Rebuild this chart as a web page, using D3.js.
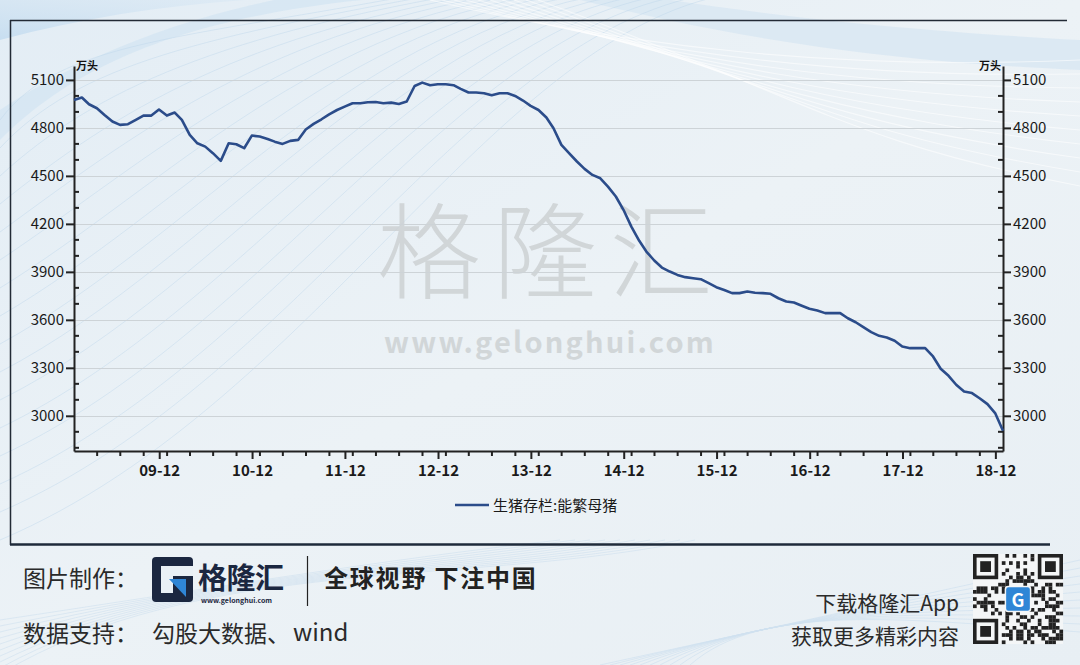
<!DOCTYPE html>
<html><head><meta charset="utf-8">
<script src="https://cdn.jsdelivr.net/npm/d3@7/dist/d3.min.js"></script>
<style>
html,body{margin:0;padding:0;background:#e9f0f5;}
svg{display:block;}
text{font-family:"Noto Sans CJK SC","Noto Sans",sans-serif;}
</style></head>
<body>
<svg id="c" width="1080" height="665"></svg>
<script>
// ---------- data ----------
const seriesName = "生猪存栏:能繁母猪";
const unitLabel = "万头";
const startYear = 2008, startMonth = 11; // first observation: 2008-12 (month end)
const sowStock = [
  4975, 4990, 4948, 4923, 4881, 4840, 4819, 4823, 4850, 4877,
  4877, 4915, 4877, 4896, 4850, 4756, 4704, 4683, 4642, 4594,
  4704, 4698, 4673, 4752, 4746, 4731, 4714, 4700, 4719, 4725,
  4790, 4825, 4854, 4885, 4912, 4933, 4954, 4954, 4960, 4962,
  4954, 4958, 4950, 4965, 5062, 5083, 5067, 5073, 5073, 5067,
  5044, 5021, 5021, 5017, 5004, 5017, 5017, 5000, 4971, 4938,
  4912, 4865, 4798, 4694, 4642, 4590, 4544, 4506, 4485, 4433,
  4371, 4288, 4183, 4094, 4027, 3971, 3927, 3902, 3881, 3867,
  3860, 3854, 3829, 3804, 3787, 3767, 3767, 3777, 3769, 3767,
  3763, 3735, 3715, 3708, 3688, 3669, 3658, 3642, 3642, 3642,
  3610, 3585, 3554, 3523, 3500, 3490, 3469, 3433, 3423, 3423,
  3423, 3371, 3294, 3250, 3194, 3152, 3142, 3110, 3073, 3017, 2906
];
const yTickValues = [3000, 3300, 3600, 3900, 4200, 4500, 4800, 5100];
const xTickLabels = ["09-12","10-12","11-12","12-12","13-12","14-12","15-12","16-12","17-12","18-12"];
const footerLeft1 = "图片制作：";
const footerSlogan = "全球视野 下注中国";
const footerLeft2a = "数据支持：";
const footerLeft2b = "勾股大数据、";
const footerWind = "wind";
const footerRight1 = "下载格隆汇App";
const footerRight2 = "获取更多精彩内容";

// ---------- build ----------
const data = sowStock.map((v,i)=>({date:new Date(startYear, startMonth+i+1, 0), value:v}));
const svg = d3.select("#c");

// background
const defs = svg.append("defs");
const bg = defs.append("linearGradient").attr("id","bg").attr("x1","0").attr("y1","0").attr("x2","1").attr("y2","1");
bg.append("stop").attr("offset","0").attr("stop-color","#e3edf5");
bg.append("stop").attr("offset","0.5").attr("stop-color","#ecf2f6");
bg.append("stop").attr("offset","1").attr("stop-color","#e8eff4");
svg.append("rect").attr("width",1080).attr("height",665).attr("fill","url(#bg)");

// decorative streaks (background ornament)
const deco = svg.append("g").attr("fill","none");
const band = defs.append("linearGradient").attr("id","band").attr("x1","0").attr("y1","1").attr("x2","1").attr("y2","0");
band.append("stop").attr("offset","0").attr("stop-color","#c4dcf0").attr("stop-opacity","0.9");
band.append("stop").attr("offset","1").attr("stop-color","#d9e8f4").attr("stop-opacity","0.2");
deco.append("path").attr("d","M0,40 C150,0 300,-10 480,0 L0,0 Z").attr("fill","url(#band)");
deco.append("path").attr("d","M0,140 C80,60 200,10 420,-5 L300,-5 C160,20 60,70 0,110 Z").attr("fill","#cfe2f2").attr("opacity",0.6);
deco.append("path").attr("d","M560,-5 C700,30 850,60 1080,70 L1080,40 C900,30 760,15 640,-5 Z").attr("fill","#d6e6f2").attr("opacity",0.7);
for(let k=0;k<16;k++){
  const y0 = 120 + k*28, x1 = 180 + k*22, c = 60 + k*18;
  deco.append("path")
    .attr("d",`M0,${y0} C${c},${y0-80-k*4} ${x1},${40-k*3} ${x1+260},${-10}`)
    .attr("stroke","#bcd5ea").attr("stroke-width",0.8).attr("opacity",0.55);
}
for(let k=0;k<10;k++){
  deco.append("path")
    .attr("d",`M${430+k*12},0 C${640+k*20},${50+k*6} ${850},${70+k*8} ${1080},${60+k*14}`)
    .attr("stroke","#ffffff").attr("stroke-width",1.2).attr("opacity",0.55);
}
for(let k=0;k<10;k++){
  deco.append("path")
    .attr("d",`M${0},${620+k*6} C${200},${590-k*4} ${380+k*10},${560+k*3} ${560+k*15},${540}`)
    .attr("stroke","#d3e3f0").attr("stroke-width",1).attr("opacity",0.7);
  deco.append("path")
    .attr("d",`M${600+k*10},665 C${760},${630-k*3} ${900},${600+k*2} ${1080},${560+k*8}`)
    .attr("stroke","#d0e1ef").attr("stroke-width",1).attr("opacity",0.7);
}

// chart frame
const frame = svg.append("g").attr("stroke","#222a35").attr("fill","none");
frame.append("line").attr("x1",10).attr("x2",1067).attr("y1",20.5).attr("y2",20.5).attr("stroke-width",1.3);
frame.append("line").attr("x1",10.5).attr("x2",10.5).attr("y1",20).attr("y2",545).attr("stroke-width",1.5);
frame.append("line").attr("x1",10).attr("x2",1050).attr("y1",544.5).attr("y2",544.5).attr("stroke-width",2.5).attr("stroke","#1e2a3a");

// scales
const x = d3.scaleTime().domain([data[0].date, data[data.length-1].date]).range([74, 1003]);
const y = d3.scaleLinear().domain([2780, 5187]).range([451, 66]);

// watermark
svg.append("text").attr("x",551).attr("y",291).attr("text-anchor","middle")
  .attr("font-size",104).attr("fill","#c9cdcf").attr("opacity",0.75).attr("letter-spacing",12)
  .attr("font-weight",300).text("格隆汇");
svg.append("text").attr("x",550).attr("y",353).attr("text-anchor","middle")
  .attr("font-size",29).attr("font-weight",700).attr("fill","#c9cdcf").attr("opacity",0.75)
  .attr("letter-spacing",2.2).attr("font-family","'Open Sans',sans-serif").text("www.gelonghui.com");

// grid
svg.append("g").selectAll("line").data(yTickValues).join("line")
  .attr("x1",74).attr("x2",1003).attr("y1",d=>Math.round(y(d))+0.5).attr("y2",d=>Math.round(y(d))+0.5)
  .attr("stroke","#cdd3d7").attr("stroke-width",1);

// axes
const minorY = d3.range(2800, 5101, 100).filter(v=>!yTickValues.includes(v));
const axisColor = "#222";
function styleAxis(g){ g.selectAll("path,line").attr("stroke",axisColor).attr("stroke-width",2); g.selectAll("text").attr("fill","#1a1a1a"); }

const yl = svg.append("g").attr("transform","translate(74,0)")
  .call(d3.axisLeft(y).tickValues(yTickValues).tickSize(8).tickSizeOuter(0).tickPadding(2).tickFormat(d3.format("d")));
yl.selectAll("text").attr("font-size",15).attr("font-family","'Open Sans',sans-serif");
styleAxis(yl);
yl.append("g").selectAll("line").data(minorY).join("line")
  .attr("x1",0).attr("x2",5).attr("y1",d=>y(d)).attr("y2",d=>y(d)).attr("stroke",axisColor).attr("stroke-width",2);

const yr = svg.append("g").attr("transform","translate(1003,0)")
  .call(d3.axisRight(y).tickValues(yTickValues).tickSize(8).tickSizeOuter(0).tickPadding(2).tickFormat(d3.format("d")));
yr.selectAll("text").attr("font-size",15).attr("font-family","'Open Sans',sans-serif");
styleAxis(yr);
yr.append("g").selectAll("line").data(minorY).join("line")
  .attr("x1",0).attr("x2",-5).attr("y1",d=>y(d)).attr("y2",d=>y(d)).attr("stroke",axisColor).attr("stroke-width",2);

// x axis
const majorDates = xTickLabels.map(s=>new Date(2000+ +s.slice(0,2), 11, 1));
const minorDates = d3.timeMonth.every(3).range(new Date(2009,2,1), data[data.length-1].date)
  .filter(d=>d.getMonth()!==11);
const xa = svg.append("g").attr("transform","translate(0,451)")
  .call(d3.axisBottom(x).tickValues(majorDates).tickSize(8).tickSizeOuter(0).tickPadding(6)
    .tickFormat((d,i)=>xTickLabels[i]));
xa.selectAll("text").attr("font-size",15).attr("font-weight",600).attr("font-family","'Open Sans',sans-serif");
styleAxis(xa);
xa.append("g").selectAll("line").data(minorDates).join("line")
  .attr("x1",d=>x(d)).attr("x2",d=>x(d)).attr("y1",0).attr("y2",5).attr("stroke",axisColor).attr("stroke-width",2);

// unit labels
svg.append("text").attr("x",76).attr("y",70).attr("font-size",11).attr("font-weight",700).attr("fill","#111").text(unitLabel);
svg.append("text").attr("x",1001).attr("y",70).attr("text-anchor","end").attr("font-size",11).attr("font-weight",700).attr("fill","#111").text(unitLabel);

// series line
const line = d3.line().x(d=>x(d.date)).y(d=>y(d.value)).curve(d3.curveLinear);
svg.append("path").datum(data).attr("d",line).attr("fill","none")
  .attr("stroke","#2b4c8a").attr("stroke-width",2.6).attr("stroke-linejoin","round");

// legend
const lg = svg.append("g").attr("transform","translate(455,505)");
lg.append("line").attr("x1",0).attr("x2",34).attr("y1",0).attr("y2",0).attr("stroke","#2b4c8a").attr("stroke-width",2.6);
lg.append("text").attr("x",38).attr("y",5.5).attr("font-size",15).attr("fill","#1a1a1a").text(seriesName);

// ---------- footer ----------
const ft = svg.append("g");
ft.append("text").attr("x",23).attr("y",587).attr("font-size",23).attr("fill","#2a2a2a").text(footerLeft1);
// logo icon
const lgx = 152, lgy = 557;
ft.append("rect").attr("x",lgx).attr("y",lgy).attr("width",41).attr("height",45).attr("rx",4).attr("fill","#1b2740");
ft.append("rect").attr("x",lgx+9).attr("y",lgy+9).attr("width",32).attr("height",10).attr("fill","#e9f0f5");
ft.append("rect").attr("x",lgx+9).attr("y",lgy+19).attr("width",12).attr("height",17).attr("fill","#e9f0f5");
ft.append("path").attr("d",`M${lgx+17},${lgy+22} L${lgx+34},${lgy+22} L${lgx+34},${lgy+40} Z`).attr("fill","#2f86d6");
ft.append("text").attr("x",198).attr("y",589).attr("font-size",29).attr("font-weight",700).attr("fill","#1b2740").attr("letter-spacing",-0.5).text("格隆汇");
ft.append("text").attr("x",201).attr("y",603).attr("font-size",7).attr("font-weight",700).attr("fill","#1b2740").attr("font-family","'Open Sans',sans-serif").text("www.gelonghui.com");
ft.append("line").attr("x1",307.5).attr("x2",307.5).attr("y1",556).attr("y2",606).attr("stroke","#222").attr("stroke-width",1.2);
ft.append("text").attr("x",324).attr("y",587).attr("font-size",24).attr("font-weight",700).attr("fill","#222").attr("letter-spacing",1.8).text(footerSlogan);
ft.append("text").attr("x",23).attr("y",642).attr("font-size",23).attr("fill","#2a2a2a").text(footerLeft2a);
ft.append("text").attr("x",152).attr("y",642).attr("font-size",23).attr("fill","#2a2a2a").text(footerLeft2b);
ft.append("text").attr("x",293).attr("y",641).attr("font-size",24).attr("fill","#2a2a2a")
  .attr("font-family","'Liberation Mono','DejaVu Sans Mono',monospace").text(footerWind);
ft.append("text").attr("x",959).attr("y",611).attr("text-anchor","end").attr("font-size",21).attr("fill","#2a2a2a").text(footerRight1);
ft.append("text").attr("x",959).attr("y",644).attr("text-anchor","end").attr("font-size",21).attr("fill","#2a2a2a").text(footerRight2);

// QR ornament
const qx = 973, qy = 554, n = 25, ms = 3.6;
const qr = ft.append("g");
qr.append("rect").attr("x",qx).attr("y",qy).attr("width",n*ms).attr("height",n*ms).attr("fill","#f4f6f7");
const cells = [];
for(let r=0;r<n;r++) for(let c=0;c<n;c++){
  const inFinder = (r<8&&c<8)||(r<8&&c>=n-8)||(r>=n-8&&c<8);
  if(inFinder) continue;
  const h = ((r*73856093) ^ (c*19349663) ^ (r*c*83492791)) >>> 0;
  if((h % 7) < 3) cells.push([r,c]);
}
qr.selectAll("rect.m").data(cells).join("rect").attr("class","m")
  .attr("x",d=>qx+d[1]*ms).attr("y",d=>qy+d[0]*ms).attr("width",ms+0.1).attr("height",ms+0.1).attr("fill","#222");
[[0,0],[0,n-7],[n-7,0]].forEach(([r,c])=>{
  qr.append("rect").attr("x",qx+c*ms+ms/2).attr("y",qy+r*ms+ms/2).attr("width",6*ms).attr("height",6*ms).attr("fill","none").attr("stroke","#222").attr("stroke-width",ms);
  qr.append("rect").attr("x",qx+(c+2)*ms).attr("y",qy+(r+2)*ms).attr("width",3*ms).attr("height",3*ms).attr("fill","#222");
});
qr.append("rect").attr("x",qx+9*ms).attr("y",qy+9*ms).attr("width",7*ms).attr("height",7*ms).attr("rx",3).attr("fill","#2f86d6").attr("stroke","#f4f6f7").attr("stroke-width",1.5);
qr.append("text").attr("x",qx+12.5*ms).attr("y",qy+14.6*ms).attr("text-anchor","middle").attr("font-size",18).attr("font-weight",700).attr("fill","#fff").attr("font-family","'Open Sans',sans-serif").text("G");
</script>
</body></html>
